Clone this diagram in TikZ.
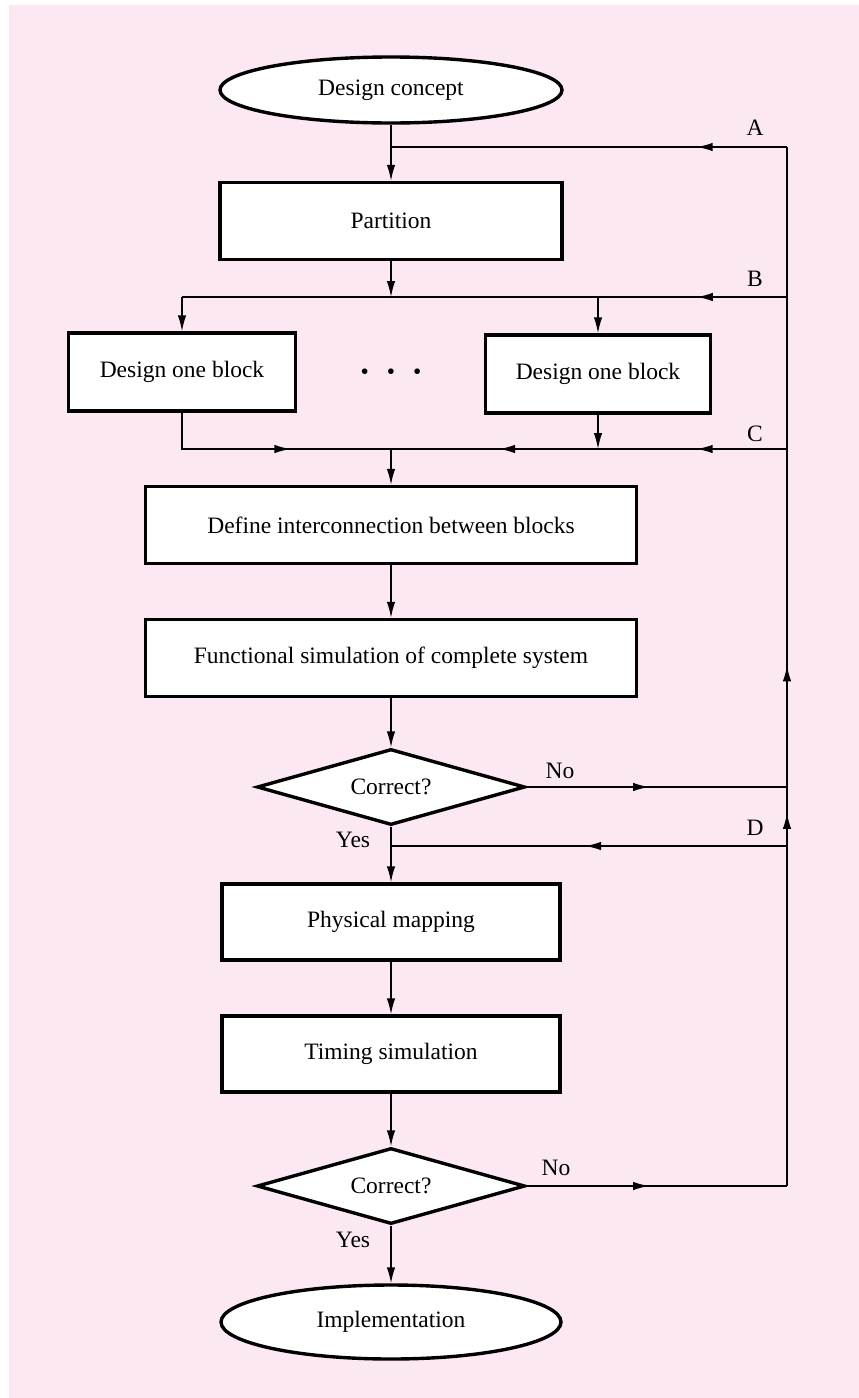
\documentclass[tikz,border=0pt]{standalone}
\usepackage{fontspec}
\setmainfont{Liberation Serif}
\usepackage{tikz}
\usetikzlibrary{arrows.meta}
\usetikzlibrary{shapes.geometric}
\usetikzlibrary{decorations.markings}
\definecolor{bgpink}{RGB}{252,232,242}
\tikzset{
    >={Latex[length=16pt,width=8.5pt]},
    every node/.style={font=\fontsize{23.5}{28}\selectfont},
    flowbox/.style={shape=rectangle, draw=black, fill=white, line width=3.4pt, minimum height=77pt},
    terminal/.style={shape=ellipse, draw=black, fill=white, line width=3.4pt, minimum width=342pt, minimum height=66pt},
    decision/.style={shape=diamond, draw=black, fill=white, line width=3.4pt, minimum width=268pt, minimum height=76pt, inner sep=0pt, shape aspect=3.5},
    link/.style={line width=1.5pt},
    flow/.style={postaction={decorate, decoration={markings, mark=at position #1 with {\arrow{>}}}}}}

\begin{document}
\begin{tikzpicture}[x=1pt, y=-1pt]

            \useasboundingbox (0,0) rectangle (859,1398);
            \fill[bgpink] (9,5) rectangle (859,1398);

            \node[terminal] (concept) at (391,90) {Design concept};
            \node[flowbox, minimum width=342pt] (partition) at (391,221) {Partition};
            \node[flowbox, minimum width=227pt, minimum height=78pt] (blockL) at (182,372) {Design one block};
            \node[flowbox, minimum width=225pt, minimum height=78pt] (blockR) at (598,374) {Design one block};
            \node (dots) at (391,374) {\textbullet\hspace{18pt}\textbullet\hspace{18pt}\textbullet};
            \node[flowbox, minimum width=491pt] (define) at (391,525) {Define interconnection between blocks};
            \node[flowbox, minimum width=491pt] (func) at (391,658) {Functional simulation of complete system};
            \node[decision] (check1) at (391,787) {Correct?};
            \node[flowbox, minimum width=338pt, minimum height=76pt] (physical) at (391,922) {Physical mapping};
            \node[flowbox, minimum width=338pt, minimum height=76pt] (timing) at (391,1054) {Timing simulation};
            \node[decision] (check2) at (391,1186) {Correct?};
            \node[terminal, minimum width=340pt, minimum height=74pt] (impl) at (391,1322) {Implementation};

            \coordinate (rA) at (787,147);
            \coordinate (jA) at (391,147);
            \coordinate (rB) at (787,297);
            \coordinate (jB) at (391,297);
            \coordinate (kB) at (598,297);
            \coordinate (lB) at (182,297);
            \coordinate (rC) at (787,449);
            \coordinate (jC) at (391,449);
            \coordinate (kC) at (598,449);
            \coordinate (rNo1) at (787,787);
            \coordinate (rD) at (787,846);
            \coordinate (jD) at (391,846);
            \coordinate (rNo2) at (787,1186);

            \draw[link, ->] (concept) -- (partition);
            \draw[link, flow=0.228] (rA) -- (jA);
            \draw[link, ->] (partition) -- (jB);
            \draw[link, flow=0.149] (rB) -- (lB);
            \draw[link, ->] (lB) -- (blockL);
            \draw[link, ->] (kB) -- (blockR);
            \draw[link, flow=0.59] (blockL) |- (jC);
            \draw[link, flow=0.228, flow=0.727] (rC) -- (jC);
            \draw[link, ->] (blockR) -- (kC);
            \draw[link, ->] (jC) -- (define);
            \draw[link, ->] (define) -- (func);
            \draw[link, ->] (func) -- (check1);
            \draw[link, flow=0.47] (check1.east) -- (rNo1);
            \draw[link, flow=0.19] (rNo1) -- (rA);
            \draw[link, ->] (check1) -- (physical);
            \draw[link, flow=0.51] (rD) -- (jD);
            \draw[link, flow=0.935] (rNo2) -- (rNo1);
            \draw[link, ->] (physical) -- (timing);
            \draw[link, ->] (timing) -- (check2);
            \draw[link, flow=0.47] (check2.east) -- (rNo2);
            \draw[link, ->] (check2) -- (impl);

            \node (labA) at (755,128) {A};
            \node (labB) at (755,279) {B};
            \node (labC) at (755,434) {C};
            \node (labD) at (755,828) {D};
            \node (no1) at (560,771) {No};
            \node (no2) at (556,1168) {No};
            \node (yes1) at (353,840) {Yes};
            \node (yes2) at (353,1240) {Yes};

        \end{tikzpicture}
\end{document}
